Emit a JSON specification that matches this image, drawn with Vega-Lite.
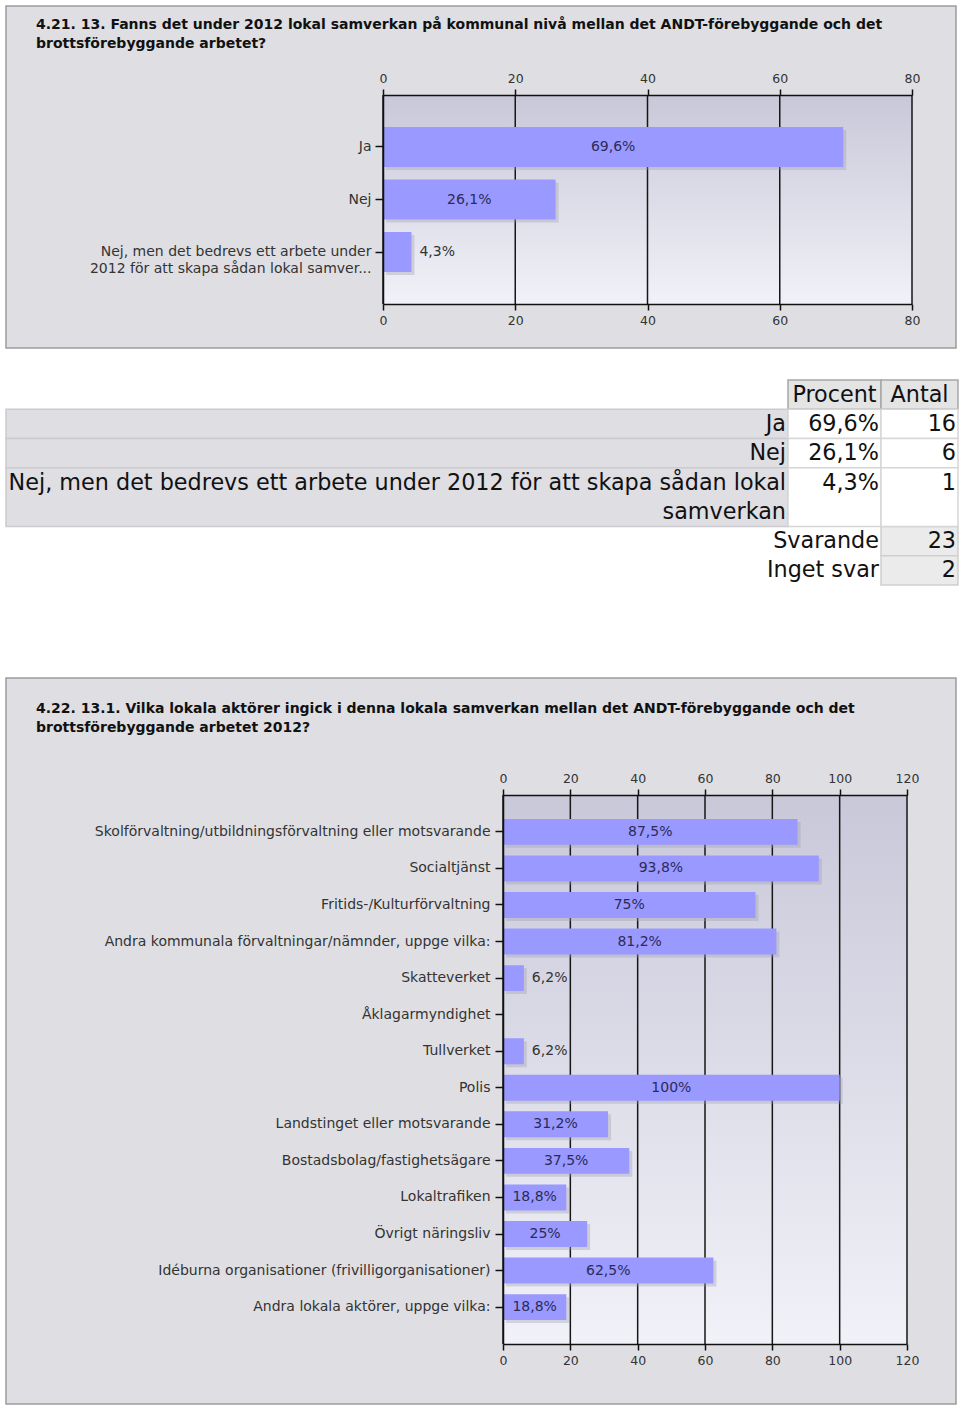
{
  "$schema": "https://vega.github.io/schema/vega-lite/v6.json",
  "background": "#ffffff",
  "padding": {"left": 5, "top": 5, "right": 0, "bottom": 0},
  "spacing": 0,
  "bounds": "flush",
  "config": {
    "font": "DejaVu Sans",
    "locale": {"number": {"decimal": ",", "thousands": " ", "grouping": [3], "currency": ["", "%"]}},
    "axis": {"labelFont": "DejaVu Sans", "labelColor": "#333333", "domainColor": "#111111", "tickColor": "#111111", "grid": false, "labelFlush": false},
    "view": {"stroke": null}
  },
  "datasets": {
    "q13": [
      {"svar": "Ja", "andel": 69.6},
      {"svar": "Nej", "andel": 26.1},
      {"svar": "Nej, men det bedrevs ett arbete under 2012 för att skapa sådan lokal samverkan", "andel": 4.3}
    ],
    "q131": [
      {"aktor": "Skolförvaltning/utbildningsförvaltning eller motsvarande", "andel": 87.5},
      {"aktor": "Socialtjänst", "andel": 93.8},
      {"aktor": "Fritids-/Kulturförvaltning", "andel": 75},
      {"aktor": "Andra kommunala förvaltningar/nämnder, uppge vilka:", "andel": 81.2},
      {"aktor": "Skatteverket", "andel": 6.2},
      {"aktor": "Åklagarmyndighet", "andel": 0},
      {"aktor": "Tullverket", "andel": 6.2},
      {"aktor": "Polis", "andel": 100},
      {"aktor": "Landstinget eller motsvarande", "andel": 31.2},
      {"aktor": "Bostadsbolag/fastighetsägare", "andel": 37.5},
      {"aktor": "Lokaltrafiken", "andel": 18.8},
      {"aktor": "Övrigt näringsliv", "andel": 25},
      {"aktor": "Idéburna organisationer (frivilligorganisationer)", "andel": 62.5},
      {"aktor": "Andra lokala aktörer, uppge vilka:", "andel": 18.8}
    ],
    "skala80": [{"v": 0}, {"v": 20}, {"v": 40}, {"v": 60}, {"v": 80}],
    "skala120": [{"v": 0}, {"v": 20}, {"v": 40}, {"v": 60}, {"v": 80}, {"v": 100}, {"v": 120}],
    "tabell": [
      {"kolumn": "etikett", "rad": "Ja", "text": "Ja", "cell": "etikett"},
      {"kolumn": "etikett", "rad": "Nej", "text": "Nej", "cell": "etikett"},
      {"kolumn": "etikett", "rad": "NM1", "text": "Nej, men det bedrevs ett arbete under 2012 för att skapa sådan lokal", "cell": "etikett"},
      {"kolumn": "etikett", "rad": "NM2", "text": "samverkan", "cell": "etikett"},
      {"kolumn": "Procent", "rad": "h", "text": "Procent", "cell": "rubrik"},
      {"kolumn": "Procent", "rad": "Ja", "text": "69,6%", "cell": "värde"},
      {"kolumn": "Procent", "rad": "Nej", "text": "26,1%", "cell": "värde"},
      {"kolumn": "Procent", "rad": "NM1", "text": "4,3%", "cell": "värde"},
      {"kolumn": "Procent", "rad": "NM2", "text": "", "cell": "värde"},
      {"kolumn": "Procent", "rad": "Sv", "text": "Svarande", "cell": "ingen"},
      {"kolumn": "Procent", "rad": "In", "text": "Inget svar", "cell": "ingen"},
      {"kolumn": "Antal", "rad": "h", "text": "Antal", "cell": "rubrik"},
      {"kolumn": "Antal", "rad": "Ja", "text": "16", "cell": "värde"},
      {"kolumn": "Antal", "rad": "Nej", "text": "6", "cell": "värde"},
      {"kolumn": "Antal", "rad": "NM1", "text": "1", "cell": "värde"},
      {"kolumn": "Antal", "rad": "NM2", "text": "", "cell": "värde"},
      {"kolumn": "Antal", "rad": "Sv", "text": "23", "cell": "summa"},
      {"kolumn": "Antal", "rad": "In", "text": "2", "cell": "summa"}
    ]
  },
  "vconcat": [
    {
      "width": 950,
      "height": 342,
      "view": {"fill": "#dfdfe3", "stroke": "#9c9c9c", "strokeWidth": 1.5},
      "title": {"text": ["4.21. 13. Fanns det under 2012 lokal samverkan på kommunal nivå mellan det ANDT-förebyggande och det", "brottsförebyggande arbetet?"], "anchor": "start", "frame": "group", "orient": "top", "offset": -45, "dx": 30, "font": "DejaVu Sans", "fontSize": 14, "fontWeight": "bold", "color": "#111111", "lineHeight": 19},
      "resolve": {"scale": {"x": "independent", "y": "independent"}},
      "layer": [
        {
          "layer": [
            {
              "data": {"values": [{"yta": "diagramyta"}]},
              "mark": {"type": "rect", "fill": {"gradient": "linear", "x1": 0, "y1": 0, "x2": 0, "y2": 1, "stops": [{"offset": 0, "color": "#c8c8d9"}, {"offset": 1, "color": "#f1f1f8"}]}},
              "encoding": {
                "x": {"datum": 0, "type": "quantitative", "scale": {"domain": [0, 80], "range": [377, 906], "nice": false, "zero": false}, "axis": {"orient": "top", "offset": -89, "values": [0, 20, 40, 60, 80], "title": null, "tickSize": 6, "tickWidth": 1.5, "domainWidth": 1.5, "labelPadding": 4, "labelFontSize": 12.5, "zindex": 2}},
                "x2": {"datum": 80},
                "y": {"datum": 0, "type": "quantitative", "scale": {"domain": [0, 1], "range": [89, 298], "nice": false, "zero": false}, "axis": null},
                "y2": {"datum": 1}
              }
            },
            {
              "data": {"name": "skala80"},
              "mark": {"type": "rule", "color": "#161616", "strokeWidth": 1.5},
              "encoding": {
                "x": {"field": "v", "type": "quantitative", "scale": {"domain": [0, 80], "range": [377, 906], "nice": false, "zero": false}, "axis": {"orient": "top", "offset": -89, "values": [0, 20, 40, 60, 80], "title": null, "tickSize": 6, "tickWidth": 1.5, "domainWidth": 1.5, "labelPadding": 4, "labelFontSize": 12.5, "zindex": 2}},
                "y": {"datum": 0, "type": "quantitative", "scale": {"domain": [0, 1], "range": [89, 298], "nice": false, "zero": false}, "axis": null},
                "y2": {"datum": 1}
              }
            }
          ]
        },
        {
          "data": {"name": "q13"},
          "encoding": {
            "x": {"field": "andel", "type": "quantitative", "scale": {"domain": [0, 80], "range": [377, 906], "nice": false}, "axis": {"orient": "bottom", "offset": -44, "values": [0, 20, 40, 60, 80], "title": null, "tickSize": 6, "tickWidth": 1.5, "domainWidth": 1.5, "labelPadding": 4, "labelFontSize": 12.5, "zindex": 2}},
            "y": {"field": "svar", "type": "nominal", "sort": null, "scale": {"type": "band", "domain": ["Ja", "Nej", "Nej, men det bedrevs ett arbete under 2012 för att skapa sådan lokal samverkan"], "range": [89, 298], "paddingInner": 0.24, "paddingOuter": 0.61}, "axis": {"orient": "left", "offset": -377, "title": null, "tickSize": 8, "tickWidth": 1.5, "domainWidth": 1.5, "labelPadding": 4, "labelFontSize": 14, "labelLimit": 0, "labelLineHeight": 17, "zindex": 2, "labelExpr": "datum.value == 'Nej, men det bedrevs ett arbete under 2012 för att skapa sådan lokal samverkan' ? ['Nej, men det bedrevs ett arbete under', '2012 för att skapa sådan lokal samver...'] : datum.value"}}
          },
          "layer": [
            {"mark": {"type": "bar", "color": "#9a9aae", "opacity": 0.35, "xOffset": 3, "x2Offset": 3, "yOffset": 3, "y2Offset": 3}},
            {"mark": {"type": "bar", "color": "#9999ff"}},
            {
              "transform": [{"filter": "datum.andel > 0 && datum.andel < 10"}],
              "mark": {"type": "text", "align": "left", "baseline": "middle", "dx": 8, "fontSize": 14, "color": "#333333"},
              "encoding": {"text": {"field": "andel", "format": "$.1~f"}}
            }
          ]
        },
        {
          "data": {"name": "q13"},
          "transform": [{"filter": "datum.andel >= 10"}],
          "mark": {"type": "text", "align": "center", "baseline": "middle", "fontSize": 14, "color": "#2b2b58"},
          "encoding": {
            "x": {"field": "andel", "type": "quantitative", "scale": {"domain": [0, 80], "range": [377, 641.5], "nice": false}, "axis": null},
            "y": {"field": "svar", "type": "nominal", "sort": null, "scale": {"type": "band", "domain": ["Ja", "Nej", "Nej, men det bedrevs ett arbete under 2012 för att skapa sådan lokal samverkan"], "range": [89, 298], "paddingInner": 0.24, "paddingOuter": 0.61}, "axis": null},
            "text": {"field": "andel", "format": "$.1~f"}
          }
        }
      ]
    },
    {
      "width": 952,
      "height": 330,
      "view": {"stroke": null},
      "data": {"name": "tabell"},
      "resolve": {"scale": {"x": "independent"}},
      "encoding": {
        "y": {"field": "rad", "type": "nominal", "sort": null, "scale": {"type": "band", "domain": ["h", "Ja", "Nej", "NM1", "NM2", "Sv", "In"], "range": [32, 237], "paddingInner": 0, "paddingOuter": 0}, "axis": null}
      },
      "layer": [
        {
          "transform": [{"filter": "datum.kolumn == 'etikett'"}],
          "encoding": {
            "x": {"field": "kolumn", "type": "nominal", "scale": {"type": "band", "range": [0, 782], "paddingInner": 0, "paddingOuter": 0}, "axis": null}
          },
          "layer": [
            {
              "transform": [{"filter": "datum.cell != 'ingen' && datum.rad != 'NM1' && datum.rad != 'NM2'"}],
              "mark": {"type": "rect", "strokeWidth": 1.5},
              "encoding": {
                "fill": {"field": "cell", "type": "nominal", "scale": {"domain": ["rubrik", "etikett", "värde", "summa"], "range": ["#e4e4e4", "#dedee3", "#ffffff", "#ebebeb"]}, "legend": null},
                "stroke": {"field": "cell", "type": "nominal", "scale": {"domain": ["rubrik", "etikett", "värde", "summa"], "range": ["#a6a6a6", "#cbcbcf", "#d6d6d6", "#cfcfcf"]}, "legend": null}
              }
            },
            {
              "transform": [{"filter": "datum.rad == 'NM1'"}],
              "mark": {"type": "rect", "strokeWidth": 1.5},
              "encoding": {
                "y": {"field": "rad", "type": "nominal", "sort": null, "bandPosition": 0, "scale": {"type": "band", "domain": ["h", "Ja", "Nej", "NM1", "NM2", "Sv", "In"], "range": [32, 237], "paddingInner": 0, "paddingOuter": 0}, "axis": null},
                "y2": {"datum": "Sv", "bandPosition": 0},
                "fill": {"field": "cell", "type": "nominal", "scale": {"domain": ["rubrik", "etikett", "värde", "summa"], "range": ["#e4e4e4", "#dedee3", "#ffffff", "#ebebeb"]}, "legend": null},
                "stroke": {"field": "cell", "type": "nominal", "scale": {"domain": ["rubrik", "etikett", "värde", "summa"], "range": ["#a6a6a6", "#cbcbcf", "#d6d6d6", "#cfcfcf"]}, "legend": null}
              }
            },
            {
              "mark": {"type": "text", "align": "right", "baseline": "middle", "dx": -2, "fontSize": 22.3, "color": "#111111"},
              "encoding": {
                "x": {"field": "kolumn", "type": "nominal", "bandPosition": 1, "scale": {"type": "band", "range": [0, 782], "paddingInner": 0, "paddingOuter": 0}, "axis": null},
                "text": {"field": "text"}
              }
            }
          ]
        },
        {
          "transform": [{"filter": "datum.kolumn == 'Procent'"}],
          "encoding": {
            "x": {"field": "kolumn", "type": "nominal", "scale": {"type": "band", "range": [782, 875], "paddingInner": 0, "paddingOuter": 0}, "axis": null}
          },
          "layer": [
            {
              "transform": [{"filter": "datum.cell != 'ingen' && datum.rad != 'NM1' && datum.rad != 'NM2'"}],
              "mark": {"type": "rect", "strokeWidth": 1.5},
              "encoding": {
                "fill": {"field": "cell", "type": "nominal", "scale": {"domain": ["rubrik", "etikett", "värde", "summa"], "range": ["#e4e4e4", "#dedee3", "#ffffff", "#ebebeb"]}, "legend": null},
                "stroke": {"field": "cell", "type": "nominal", "scale": {"domain": ["rubrik", "etikett", "värde", "summa"], "range": ["#a6a6a6", "#cbcbcf", "#d6d6d6", "#cfcfcf"]}, "legend": null}
              }
            },
            {
              "transform": [{"filter": "datum.rad == 'NM1'"}],
              "mark": {"type": "rect", "strokeWidth": 1.5},
              "encoding": {
                "y": {"field": "rad", "type": "nominal", "sort": null, "bandPosition": 0, "scale": {"type": "band", "domain": ["h", "Ja", "Nej", "NM1", "NM2", "Sv", "In"], "range": [32, 237], "paddingInner": 0, "paddingOuter": 0}, "axis": null},
                "y2": {"datum": "Sv", "bandPosition": 0},
                "fill": {"field": "cell", "type": "nominal", "scale": {"domain": ["rubrik", "etikett", "värde", "summa"], "range": ["#e4e4e4", "#dedee3", "#ffffff", "#ebebeb"]}, "legend": null},
                "stroke": {"field": "cell", "type": "nominal", "scale": {"domain": ["rubrik", "etikett", "värde", "summa"], "range": ["#a6a6a6", "#cbcbcf", "#d6d6d6", "#cfcfcf"]}, "legend": null}
              }
            },
            {
              "transform": [{"filter": "datum.cell != 'rubrik'"}],
              "mark": {"type": "text", "align": "right", "baseline": "middle", "dx": -2, "fontSize": 22.3, "color": "#111111"},
              "encoding": {
                "x": {"field": "kolumn", "type": "nominal", "bandPosition": 1, "scale": {"type": "band", "range": [782, 875], "paddingInner": 0, "paddingOuter": 0}, "axis": null},
                "text": {"field": "text"}
              }
            },
            {
              "transform": [{"filter": "datum.cell == 'rubrik'"}],
              "mark": {"type": "text", "align": "center", "baseline": "middle", "fontSize": 22.3, "color": "#111111"},
              "encoding": {"text": {"field": "text"}}
            }
          ]
        },
        {
          "transform": [{"filter": "datum.kolumn == 'Antal'"}],
          "encoding": {
            "x": {"field": "kolumn", "type": "nominal", "scale": {"type": "band", "range": [875, 952], "paddingInner": 0, "paddingOuter": 0}, "axis": null}
          },
          "layer": [
            {
              "transform": [{"filter": "datum.cell != 'ingen' && datum.rad != 'NM1' && datum.rad != 'NM2'"}],
              "mark": {"type": "rect", "strokeWidth": 1.5},
              "encoding": {
                "fill": {"field": "cell", "type": "nominal", "scale": {"domain": ["rubrik", "etikett", "värde", "summa"], "range": ["#e4e4e4", "#dedee3", "#ffffff", "#ebebeb"]}, "legend": null},
                "stroke": {"field": "cell", "type": "nominal", "scale": {"domain": ["rubrik", "etikett", "värde", "summa"], "range": ["#a6a6a6", "#cbcbcf", "#d6d6d6", "#cfcfcf"]}, "legend": null}
              }
            },
            {
              "transform": [{"filter": "datum.rad == 'NM1'"}],
              "mark": {"type": "rect", "strokeWidth": 1.5},
              "encoding": {
                "y": {"field": "rad", "type": "nominal", "sort": null, "bandPosition": 0, "scale": {"type": "band", "domain": ["h", "Ja", "Nej", "NM1", "NM2", "Sv", "In"], "range": [32, 237], "paddingInner": 0, "paddingOuter": 0}, "axis": null},
                "y2": {"datum": "Sv", "bandPosition": 0},
                "fill": {"field": "cell", "type": "nominal", "scale": {"domain": ["rubrik", "etikett", "värde", "summa"], "range": ["#e4e4e4", "#dedee3", "#ffffff", "#ebebeb"]}, "legend": null},
                "stroke": {"field": "cell", "type": "nominal", "scale": {"domain": ["rubrik", "etikett", "värde", "summa"], "range": ["#a6a6a6", "#cbcbcf", "#d6d6d6", "#cfcfcf"]}, "legend": null}
              }
            },
            {
              "transform": [{"filter": "datum.cell != 'rubrik'"}],
              "mark": {"type": "text", "align": "right", "baseline": "middle", "dx": -2, "fontSize": 22.3, "color": "#111111"},
              "encoding": {
                "x": {"field": "kolumn", "type": "nominal", "bandPosition": 1, "scale": {"type": "band", "range": [875, 952], "paddingInner": 0, "paddingOuter": 0}, "axis": null},
                "text": {"field": "text"}
              }
            },
            {
              "transform": [{"filter": "datum.cell == 'rubrik'"}],
              "mark": {"type": "text", "align": "center", "baseline": "middle", "fontSize": 22.3, "color": "#111111"},
              "encoding": {"text": {"field": "text"}}
            }
          ]
        }
      ]
    },
    {
      "width": 950,
      "height": 726,
      "view": {"fill": "#dfdfe3", "stroke": "#9c9c9c", "strokeWidth": 1.5},
      "title": {"text": ["4.22. 13.1. Vilka lokala aktörer ingick i denna lokala samverkan mellan det ANDT-förebyggande och det", "brottsförebyggande arbetet 2012?"], "anchor": "start", "frame": "group", "orient": "top", "offset": -57, "dx": 30, "font": "DejaVu Sans", "fontSize": 14, "fontWeight": "bold", "color": "#111111", "lineHeight": 19},
      "resolve": {"scale": {"x": "independent", "y": "independent"}},
      "layer": [
        {
          "layer": [
            {
              "data": {"values": [{"yta": "diagramyta"}]},
              "mark": {"type": "rect", "fill": {"gradient": "linear", "x1": 0, "y1": 0, "x2": 0, "y2": 1, "stops": [{"offset": 0, "color": "#c8c8d9"}, {"offset": 1, "color": "#f1f1f8"}]}},
              "encoding": {
                "x": {"datum": 0, "type": "quantitative", "scale": {"domain": [0, 120], "range": [497, 901], "nice": false, "zero": false}, "axis": {"orient": "top", "offset": -117, "values": [0, 20, 40, 60, 80, 100, 120], "title": null, "tickSize": 6, "tickWidth": 1.5, "domainWidth": 1.5, "labelPadding": 4, "labelFontSize": 12.5, "zindex": 2}},
                "x2": {"datum": 120},
                "y": {"datum": 0, "type": "quantitative", "scale": {"domain": [0, 1], "range": [117, 666], "nice": false, "zero": false}, "axis": null},
                "y2": {"datum": 1}
              }
            },
            {
              "data": {"name": "skala120"},
              "mark": {"type": "rule", "color": "#161616", "strokeWidth": 1.5},
              "encoding": {
                "x": {"field": "v", "type": "quantitative", "scale": {"domain": [0, 120], "range": [497, 901], "nice": false, "zero": false}, "axis": {"orient": "top", "offset": -117, "values": [0, 20, 40, 60, 80, 100, 120], "title": null, "tickSize": 6, "tickWidth": 1.5, "domainWidth": 1.5, "labelPadding": 4, "labelFontSize": 12.5, "zindex": 2}},
                "y": {"datum": 0, "type": "quantitative", "scale": {"domain": [0, 1], "range": [117, 666], "nice": false, "zero": false}, "axis": null},
                "y2": {"datum": 1}
              }
            }
          ]
        },
        {
          "data": {"name": "q131"},
          "encoding": {
            "x": {"field": "andel", "type": "quantitative", "scale": {"domain": [0, 120], "range": [497, 901], "nice": false}, "axis": {"orient": "bottom", "offset": -60, "values": [0, 20, 40, 60, 80, 100, 120], "title": null, "tickSize": 6, "tickWidth": 1.5, "domainWidth": 1.5, "labelPadding": 4, "labelFontSize": 12.5, "zindex": 2}},
            "y": {"field": "aktor", "type": "nominal", "sort": null, "scale": {"type": "band", "domain": ["Skolförvaltning/utbildningsförvaltning eller motsvarande", "Socialtjänst", "Fritids-/Kulturförvaltning", "Andra kommunala förvaltningar/nämnder, uppge vilka:", "Skatteverket", "Åklagarmyndighet", "Tullverket", "Polis", "Landstinget eller motsvarande", "Bostadsbolag/fastighetsägare", "Lokaltrafiken", "Övrigt näringsliv", "Idéburna organisationer (frivilligorganisationer)", "Andra lokala aktörer, uppge vilka:"], "range": [117, 666], "paddingInner": 0.29, "paddingOuter": 0.654}, "axis": {"orient": "left", "offset": -497, "title": null, "tickSize": 8, "tickWidth": 1.5, "domainWidth": 1.5, "labelPadding": 5, "labelFontSize": 14, "labelLimit": 0, "zindex": 2}}
          },
          "layer": [
            {"mark": {"type": "bar", "color": "#9a9aae", "opacity": 0.35, "xOffset": 3, "x2Offset": 3, "yOffset": 3, "y2Offset": 3}},
            {"mark": {"type": "bar", "color": "#9999ff"}},
            {
              "transform": [{"filter": "datum.andel > 0 && datum.andel < 10"}],
              "mark": {"type": "text", "align": "left", "baseline": "middle", "dx": 8, "fontSize": 14, "color": "#333333"},
              "encoding": {"text": {"field": "andel", "format": "$.1~f"}}
            }
          ]
        },
        {
          "data": {"name": "q131"},
          "transform": [{"filter": "datum.andel >= 10"}],
          "mark": {"type": "text", "align": "center", "baseline": "middle", "fontSize": 14, "color": "#2b2b58"},
          "encoding": {
            "x": {"field": "andel", "type": "quantitative", "scale": {"domain": [0, 120], "range": [497, 699], "nice": false}, "axis": null},
            "y": {"field": "aktor", "type": "nominal", "sort": null, "scale": {"type": "band", "domain": ["Skolförvaltning/utbildningsförvaltning eller motsvarande", "Socialtjänst", "Fritids-/Kulturförvaltning", "Andra kommunala förvaltningar/nämnder, uppge vilka:", "Skatteverket", "Åklagarmyndighet", "Tullverket", "Polis", "Landstinget eller motsvarande", "Bostadsbolag/fastighetsägare", "Lokaltrafiken", "Övrigt näringsliv", "Idéburna organisationer (frivilligorganisationer)", "Andra lokala aktörer, uppge vilka:"], "range": [117, 666], "paddingInner": 0.29, "paddingOuter": 0.654}, "axis": null},
            "text": {"field": "andel", "format": "$.1~f"}
          }
        }
      ]
    }
  ]
}
